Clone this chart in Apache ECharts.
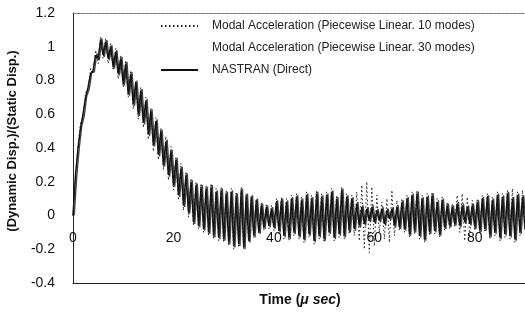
<!DOCTYPE html>
<html>
<head>
<meta charset="utf-8">
<script src="https://cdn.jsdelivr.net/npm/echarts@6/dist/echarts.min.js"></script>
<style>
html,body{margin:0;padding:0;background:#fff;}
#chart{width:525px;height:320px;}
</style>
</head>
<body>
<div id="chart"></div>
<script>
// Sampling step of the time series (micro-seconds)
const timeStep = 0.5;
// the 30-mode solution is sampled half a step later
const modal30Start = 0.25;
const xTicks = [0, 20, 40, 60, 80];
const yTicks = [-0.4, -0.2, 0, 0.2, 0.4, 0.6, 0.8, 1, 1.2];
const seriesNames = [
  'Modal Acceleration (Piecewise Linear. 10 modes)',
  'Modal Acceleration (Piecewise Linear. 30 modes)',
  'NASTRAN (Direct)'
];

// NASTRAN (Direct), one row = 10 µs
const nastran = [
  0, 0.24, 0.40, 0.52, 0.60, 0.70, 0.76, 0.84, 0.86, 0.95, 0.93, 1.04, 0.95, 1.03, 0.93, 1.00, 0.88, 0.97, 0.84, 0.93,
  0.78, 0.90, 0.72, 0.84, 0.66, 0.79, 0.60, 0.74, 0.55, 0.68, 0.48, 0.62, 0.42, 0.56, 0.36, 0.50, 0.30, 0.44, 0.24, 0.38,
  0.18, 0.33, 0.12, 0.28, 0.06, 0.24, 0.02, 0.20, -0.04, 0.18, -0.06, 0.17, -0.08, 0.16, -0.10, 0.17, -0.12, 0.14, -0.13, 0.15,
  -0.14, 0.13, -0.16, 0.14, -0.18, 0.12, -0.17, 0.15, -0.19, 0.12, -0.15, 0.11, -0.12, 0.09, -0.10, 0.06, -0.07, 0.05, -0.06, 0.04,
  -0.07, 0.08, -0.09, 0.09, -0.12, 0.08, -0.13, 0.10, -0.10, 0.11, -0.12, 0.09, -0.14, 0.12, -0.11, 0.10, -0.15, 0.13, -0.12, 0.11,
  -0.14, 0.12, -0.10, 0.14, -0.13, 0.10, -0.11, 0.15, -0.12, 0.11, -0.09, 0.10, -0.08, 0.07, -0.06, 0.05, -0.05, 0.04, -0.03, 0.05,
  -0.04, 0.03, -0.03, 0.04, -0.05, 0.03, -0.02, 0.04, -0.06, 0.05, -0.07, 0.08, -0.08, 0.10, -0.11, 0.12, -0.09, 0.13, -0.12, 0.10,
  -0.14, 0.11, -0.10, 0.12, -0.09, 0.08, -0.11, 0.09, -0.07, 0.06, -0.06, 0.05, -0.05, 0.07, -0.06, 0.06, -0.04, 0.05, -0.05, 0.06,
  -0.07, 0.08, -0.09, 0.10, -0.08, 0.11, -0.12, 0.09, -0.10, 0.12, -0.13, 0.11, -0.11, 0.13, -0.12, 0.10, -0.14, 0.12, -0.10, 0.11,
  -0.08
];

// Modal Acceleration, 10 modes
const modal10 = [
  0, 0.22, 0.41, 0.55, 0.58, 0.73, 0.74, 0.87, 0.84, 0.98, 0.90, 1.06, 0.93, 1.05, 0.90, 1.02, 0.86, 0.99, 0.81, 0.95,
  0.76, 0.92, 0.70, 0.86, 0.63, 0.80, 0.57, 0.76, 0.52, 0.70, 0.45, 0.64, 0.38, 0.58, 0.33, 0.52, 0.27, 0.47, 0.21, 0.41,
  0.15, 0.35, 0.09, 0.31, 0.03, 0.26, -0.01, 0.22, -0.06, 0.20, -0.08, 0.19, -0.10, 0.18, -0.12, 0.19, -0.14, 0.16, -0.15, 0.17,
  -0.16, 0.15, -0.18, 0.16, -0.20, 0.14, -0.19, 0.17, -0.20, 0.13, -0.16, 0.12, -0.13, 0.10, -0.11, 0.08, -0.09, 0.07, -0.08, 0.06,
  -0.09, 0.10, -0.11, 0.11, -0.14, 0.10, -0.15, 0.12, -0.12, 0.13, -0.14, 0.11, -0.16, 0.14, -0.13, 0.12, -0.17, 0.15, -0.14, 0.13,
  -0.16, 0.14, -0.12, 0.16, -0.15, 0.12, -0.13, 0.17, -0.14, 0.13, -0.11, 0.12, -0.12, 0.14, -0.15, 0.18, -0.20, 0.20, -0.22, 0.17,
  -0.18, 0.12, -0.10, 0.08, -0.14, 0.10, -0.16, 0.15, -0.12, 0.09, -0.09, 0.10, -0.10, 0.12, -0.13, 0.14, -0.11, 0.15, -0.14, 0.12,
  -0.16, 0.13, -0.12, 0.14, -0.11, 0.10, -0.13, 0.11, -0.09, 0.08, -0.08, 0.07, -0.07, 0.12, -0.10, 0.13, -0.15, 0.11, -0.13, 0.09,
  -0.09, 0.10, -0.11, 0.12, -0.10, 0.13, -0.14, 0.11, -0.12, 0.14, -0.15, 0.13, -0.13, 0.15, -0.14, 0.16, -0.16, 0.14, -0.12, 0.15,
  -0.10
];

// Modal Acceleration, 30 modes
const modal30 = [
  0, 0.23, 0.40, 0.53, 0.59, 0.71, 0.75, 0.85, 0.85, 0.96, 0.92, 1.05, 0.94, 1.04, 0.92, 1.01, 0.87, 0.98, 0.83, 0.94,
  0.77, 0.91, 0.71, 0.85, 0.65, 0.80, 0.59, 0.75, 0.54, 0.69, 0.47, 0.63, 0.41, 0.57, 0.35, 0.51, 0.29, 0.45, 0.23, 0.39,
  0.17, 0.34, 0.11, 0.29, 0.05, 0.25, 0.01, 0.21, -0.05, 0.19, -0.07, 0.18, -0.09, 0.17, -0.11, 0.18, -0.13, 0.15, -0.14, 0.16,
  -0.15, 0.14, -0.17, 0.15, -0.19, 0.13, -0.18, 0.16, -0.20, 0.13, -0.16, 0.12, -0.13, 0.10, -0.11, 0.07, -0.08, 0.06, -0.07, 0.05,
  -0.08, 0.09, -0.10, 0.10, -0.13, 0.09, -0.14, 0.11, -0.11, 0.12, -0.13, 0.10, -0.15, 0.13, -0.12, 0.11, -0.16, 0.14, -0.13, 0.12,
  -0.15, 0.13, -0.11, 0.15, -0.14, 0.11, -0.12, 0.16, -0.13, 0.12, -0.10, 0.11, -0.09, 0.08, -0.07, 0.06, -0.06, 0.05, -0.04, 0.06,
  -0.05, 0.04, -0.04, 0.05, -0.06, 0.04, -0.03, 0.05, -0.07, 0.06, -0.08, 0.09, -0.09, 0.11, -0.12, 0.13, -0.10, 0.14, -0.13, 0.11,
  -0.15, 0.12, -0.11, 0.13, -0.10, 0.09, -0.12, 0.10, -0.08, 0.07, -0.07, 0.06, -0.06, 0.08, -0.07, 0.07, -0.05, 0.06, -0.06, 0.07,
  -0.08, 0.09, -0.10, 0.11, -0.09, 0.12, -0.13, 0.10, -0.11, 0.13, -0.14, 0.12, -0.12, 0.14, -0.13, 0.11, -0.15, 0.13, -0.11, 0.12,
  -0.09
];

function toPairs(arr, start) {
  return arr.map(function (v, i) { return [start + i * timeStep, v]; });
}

const FONT = 'Liberation Sans, Arial, Helvetica, sans-serif';
const chart = echarts.init(document.getElementById('chart'), null, { renderer: 'canvas' });

const option = {
  animation: false,
  backgroundColor: '#ffffff',
  textStyle: { fontFamily: FONT },
  grid: { left: 73, right: -3, top: 13, bottom: 37, containLabel: false },
  legend: {
    orient: 'vertical',
    left: 155,
    top: 15,
    itemWidth: 37,
    itemHeight: 14,
    itemGap: 10,
    selectedMode: false,
    itemStyle: { opacity: 0 },
    textStyle: { fontSize: 12, color: '#222', fontFamily: FONT, padding: [0, 0, 0, 9] },
    data: [
      { name: seriesNames[0] },
      { name: seriesNames[1], lineStyle: { opacity: 0 } },
      { name: seriesNames[2] }
    ]
  },
  xAxis: [
    {
      // tick labels sit just below the zero line (offset moves the axis up from the bottom)
      type: 'value', min: xTicks[0], max: 90, interval: xTicks[1] - xTicks[0],
      z: 5, position: 'bottom', offset: -67,
      axisLine: { show: false, onZero: false },
      axisTick: { show: false },
      splitLine: { show: false },
      axisLabel: { margin: 15, fontSize: 14, color: '#111', fontFamily: FONT, showMaxLabel: false }
    },
    {
      type: 'value', min: 0, max: 90, position: 'bottom',
      axisLine: { show: true, onZero: false, lineStyle: { color: '#222', width: 1 } },
      axisTick: { show: false }, axisLabel: { show: false }, splitLine: { show: false }
    },
    {
      type: 'value', min: 0, max: 90, position: 'top',
      axisLine: { show: true, onZero: false, lineStyle: { color: '#777', width: 1, type: [3, 1] } },
      axisTick: { show: false }, axisLabel: { show: false }, splitLine: { show: false }
    }
  ],
  yAxis: {
    type: 'value', min: yTicks[0], max: yTicks[yTicks.length - 1], interval: yTicks[1] - yTicks[0],
    axisLine: { show: true, onZero: false, lineStyle: { color: '#222', width: 1 } },
    axisTick: { show: false },
    splitLine: { show: false },
    axisLabel: { margin: 18, fontSize: 14, color: '#111', fontFamily: FONT }
  },
  series: [
    {
      name: seriesNames[1], type: 'line', xAxisIndex: 0, symbol: 'none', showSymbol: false,
      lineStyle: { color: '#444', width: 1.3 },
      data: toPairs(modal30, modal30Start), z: 2
    },
    {
      name: seriesNames[2], type: 'line', xAxisIndex: 0, symbol: 'none', showSymbol: false,
      lineStyle: { color: '#111', width: 1.5 },
      data: toPairs(nastran, 0), z: 3
    },
    {
      name: seriesNames[0], type: 'line', xAxisIndex: 0, symbol: 'none', showSymbol: false,
      lineStyle: { color: '#222', width: 1, type: [1.5, 2.5] },
      data: toPairs(modal10, 0), z: 4
    }
  ],
  graphic: [
    {
      type: 'text', x: 12, y: 141, rotation: Math.PI / 2,
      style: {
        text: '(Dynamic Disp.)/(Static Disp.)', font: 'bold 13px ' + FONT,
        fill: '#111', textAlign: 'center', textVerticalAlign: 'middle'
      }
    },
    {
      type: 'text', x: 300, y: 300,
      style: {
        text: '{b|Time (}{i|μ sec}{b|)}',
        textAlign: 'center', textVerticalAlign: 'middle',
        rich: {
          b: { font: 'bold 14px ' + FONT, fill: '#111' },
          i: { font: 'italic bold 14px ' + FONT, fill: '#111' }
        }
      }
    }
  ]
};
chart.setOption(option);
</script>
</body>
</html>
